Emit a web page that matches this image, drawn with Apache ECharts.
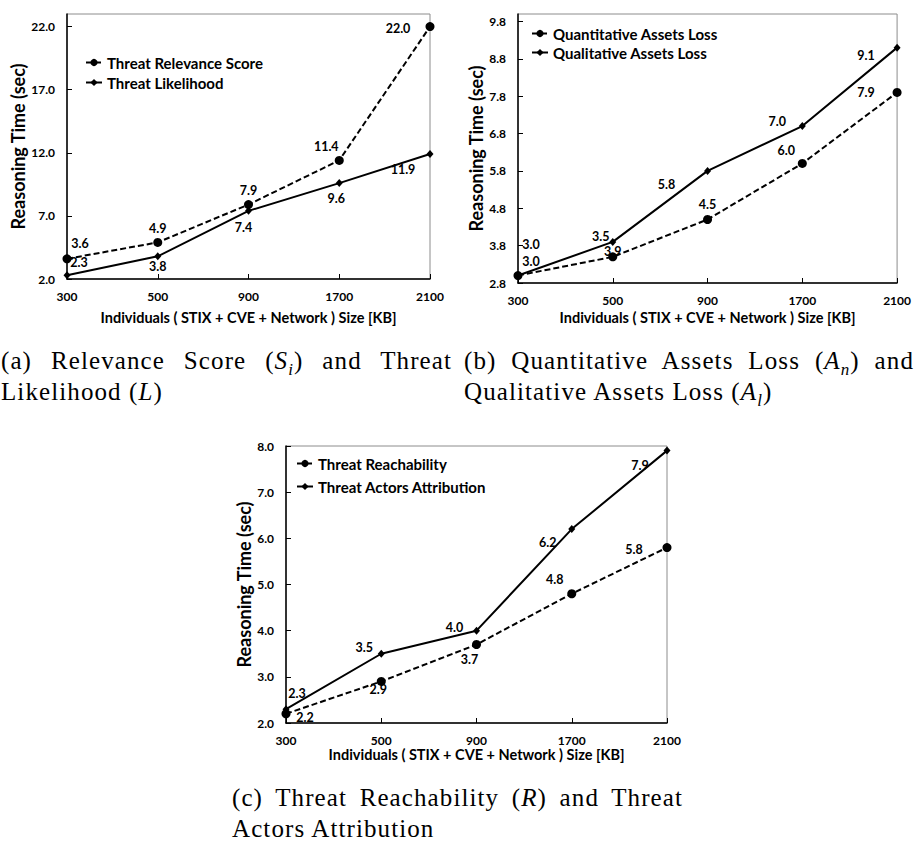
<!DOCTYPE html>
<html>
<head>
<meta charset="utf-8">
<script src="https://cdn.jsdelivr.net/npm/echarts@6/dist/echarts.min.js"></script>
<style>
  html, body { margin: 0; padding: 0; background: #fff; }
  #chart { position: absolute; left: 0; top: 0; width: 914px; height: 841px; }
  .cap { position: absolute; font-family: "Liberation Serif", serif; font-size: 25px; line-height: 31px; letter-spacing: 1.1px; color: #000; }
  .cap .l1 { white-space: nowrap; text-align: justify; text-align-last: justify; }
  .cap sub { font-size: 17px; line-height: 0; }
</style>
</head>
<body>
<div id="chart"></div>
<div class="cap" style="left:1px;top:345px;width:451px">
  <div class="l1">(a) Relevance Score (<i>S<sub>i</sub></i>) and Threat</div>
  <div>Likelihood (<i>L</i>)</div>
</div>
<div class="cap" style="left:464px;top:345px;width:450px">
  <div class="l1">(b) Quantitative Assets Loss (<i>A<sub>n</sub></i>) and</div>
  <div>Qualitative Assets Loss (<i>A<sub>l</sub></i>)</div>
</div>
<div class="cap" style="left:232px;top:782px;width:451px">
  <div class="l1">(c) Threat Reachability (<i>R</i>) and Threat</div>
  <div>Actors Attribution</div>
</div>
<script>
// data
var sizes = ['300', '500', '900', '1700', '2100'];
var relevanceScore = [3.6, 4.9, 7.9, 11.4, 22.0];
var likelihood = [2.3, 3.8, 7.4, 9.6, 11.9];
var quantLoss = [3.0, 3.5, 4.5, 6.0, 7.9];
var qualLoss = [3.0, 3.9, 5.8, 7.0, 9.1];
var reachability = [2.2, 2.9, 3.7, 4.8, 5.8];
var attribution = [2.3, 3.5, 4.0, 6.2, 7.9];

// label placement (px offsets from the point)
var offRelevance = [[13, -15], [0, -14], [0, -14], [-13, -14], [-32, 2]];
var offLikelihood = [[12, -13], [0, 10], [-5, 17], [-3, 15], [-27, 15]];
var offQuant = [[13, -14], [-12, -20], [0, -15], [-16, -13], [-31, 0]];
var offQual = [[13, -31], [0, 10], [-41, 14], [-25, -5], [-31, 8]];
var offReach = [[19, 4], [-3, 8], [-7, 15], [-17, -14], [-33, 2]];
var offAttr = [[11, -16], [-17, -6], [-22, -3], [-24, 13], [-27, 15]];

var font = 'Lato, "Open Sans", sans-serif';
var chart = echarts.init(document.getElementById('chart'), null, { renderer: 'svg' });

function grid(l, t, w, h) {
  return { left: l, top: t, width: w, height: h, show: true, borderColor: '#8c8c8c', borderWidth: 1, backgroundColor: 'transparent' };
}

function xAxis(idx, gap) {
  return {
    type: 'category', gridIndex: idx, data: sizes, boundaryGap: false,
    name: 'Individuals ( STIX + CVE + Network ) Size [KB]', nameLocation: 'middle', nameGap: gap,
    nameTextStyle: { fontFamily: font, fontWeight: 'bold', fontSize: 14.5, color: '#000' },
    axisLine: { lineStyle: { color: '#000', width: 1.5 } },
    axisTick: { inside: true, length: 5, alignWithLabel: true, lineStyle: { color: '#000' } },
    axisLabel: { fontFamily: font, fontWeight: 'bold', fontSize: 12, color: '#000', margin: 11 },
    splitLine: { show: false }
  };
}

function yAxis(idx, min, max, interval, gap, showMax) {
  return {
    type: 'value', gridIndex: idx, min: min, max: max, interval: interval,
    name: 'Reasoning Time (sec)', nameLocation: 'middle', nameGap: gap,
    nameTextStyle: { fontFamily: font, fontWeight: 'bold', fontSize: 18, color: '#000' },
    axisLine: { show: true, lineStyle: { color: '#000', width: 1.5 } },
    axisTick: { show: true, inside: true, length: 5, lineStyle: { color: '#000' } },
    axisLabel: {
      fontFamily: font, fontWeight: 'bold', fontSize: 12, color: '#000', margin: 12,
      showMaxLabel: showMax,
      formatter: function (v) { return v.toFixed(1); }
    },
    splitLine: { show: false }
  };
}

function line(name, values, offsets, dashed, idx) {
  return {
    name: name, type: 'line', xAxisIndex: idx, yAxisIndex: idx,
    symbol: dashed ? 'circle' : 'diamond',
    symbolSize: dashed ? 9 : [7, 8],
    itemStyle: { color: '#000' },
    lineStyle: { color: '#000', width: 2, type: dashed ? [6, 3] : 'solid' },
    label: {
      show: true, position: 'inside', fontFamily: font, fontWeight: 'bold', fontSize: 12.5, color: '#000',
      formatter: function (p) { return p.value.toFixed(1); }
    },
    data: values.map(function (v, i) { return { value: v, label: { offset: offsets[i] } }; }),
    z: dashed ? 3 : 2
  };
}

function legend(names, left, top, gap) {
  return {
    data: names, orient: 'vertical', left: left, top: top, itemGap: gap,
    itemWidth: 16, itemHeight: 9,
    textStyle: { fontFamily: font, fontWeight: 'bold', fontSize: 15, color: '#000', lineHeight: 17 }
  };
}

chart.setOption({
  animation: false,
  grid: [
    grid(67, 14, 363, 265),
    grid(518, 14, 381, 269),
    grid(286, 446, 381, 277)
  ],
  xAxis: [xAxis(0, 31), xAxis(1, 27), xAxis(2, 24)],
  yAxis: [yAxis(0, 2, 23, 5, 35, false), yAxis(1, 2.8, 10, 1, 29, false), yAxis(2, 2, 8, 1, 32, true)],
  legend: [
    legend(['Threat Relevance Score', 'Threat Likelihood'], 80, 49, 3),
    legend(['Quantitative Assets Loss', 'Qualitative Assets Loss'], 526, 20, 2),
    legend(['Threat Reachability', 'Threat Actors Attribution'], 291, 450, 6)
  ],
  series: [
    line('Threat Relevance Score', relevanceScore, offRelevance, true, 0),
    line('Threat Likelihood', likelihood, offLikelihood, false, 0),
    line('Quantitative Assets Loss', quantLoss, offQuant, true, 1),
    line('Qualitative Assets Loss', qualLoss, offQual, false, 1),
    line('Threat Reachability', reachability, offReach, true, 2),
    line('Threat Actors Attribution', attribution, offAttr, false, 2)
  ]
});
window.addEventListener('resize', function () { chart.resize(); });
</script>
</body>
</html>
